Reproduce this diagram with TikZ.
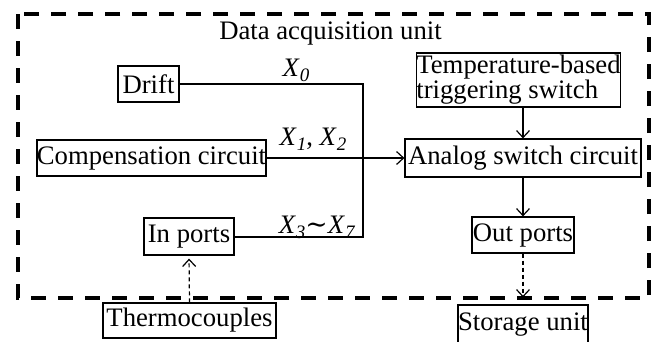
\documentclass[tikz,border=0pt]{standalone}
\usepackage{fontspec}
\usepackage{graphicx}
\setmainfont{Liberation Serif}
\newfontfamily\dvserif{DejaVu Serif}
\usetikzlibrary{arrows.meta}
\newcommand{\Xsub}[1]{\textit{X}\raisebox{-0.22em}{\fontsize{19}{19}\selectfont\textit{#1}}}
\tikzset{
  blk/.style={draw=black, line width=1.2pt, inner sep=0pt, align=center},
  lbl/.style={inner sep=0pt, anchor=base},
  conn/.style={line width=1.2pt},
  arr/.style={line width=1.2pt, -{Straight Barb[length=7pt,width=13pt,line width=1.2pt]}},
  darr/.style={line width=1.2pt, dash pattern=on 4pt off 3pt, -{Straight Barb[length=7pt,width=13pt,line width=1.2pt]}},
}
\begin{document}
\begin{tikzpicture}[x=1pt,y=-1pt, font=\fontsize{26.7}{25}\selectfont]
\useasboundingbox (0,0) rectangle (658,341);
\fill[white] (0,0) rectangle (658,341);
% outer dashed unit
\draw[line width=4pt, dash pattern=on 15pt off 12pt] (18,14) rectangle (649,298);
\node[lbl] (title) at (330.5,39) {Data acquisition unit};
% blocks
\node[blk, minimum width=61pt, minimum height=36pt] (drift) at (148.5,84) {Drift};
\node[blk, minimum width=229pt, minimum height=36pt] (comp) at (151.5,158) {Compensation circuit};
\node[blk, minimum width=90pt, minimum height=37pt] (inp) at (189,236.5) {In ports};
\node[blk, minimum width=173pt, minimum height=35pt] (thermo) at (189.5,320.5) {Thermocouples};
\node[blk, minimum width=203pt, minimum height=54pt, align=left] (temp) at (518.5,80) {Temperature-based\\triggering switch};
\node[blk, minimum width=236pt, minimum height=38pt] (analog) at (523,158) {Analog switch circuit};
\node[blk, minimum width=102pt, minimum height=36pt] (outp) at (523,235) {Out ports};
\node[blk, minimum width=130pt, minimum height=39pt] (store) at (523,324.5) {Storage unit};
% labels
\node[lbl] (x0) at (296,76) {\Xsub{0}};
\node[lbl] (x12) at (313,145) {\Xsub{1}, \Xsub{2}};
\node[lbl] (x37) at (317,233) {\Xsub{3}{\dvserif ∼}\Xsub{7}};
% connectors
\coordinate (vtop) at (363,84);
\coordinate (vbot) at (363,237);
\draw[conn] (drift.east) -- (vtop) -- (vbot) -- (inp.east |- vbot);
\draw[arr] (comp.east) -- (analog.west);
\draw[arr] (analog.north |- temp.south) -- (analog.north);
\draw[arr] (analog.south) -- (outp.north);
\draw[darr, shorten >=3pt] (thermo.north) -- (inp.south);
\draw[darr, shorten >=7pt] (outp.south) -- (store.north);
\end{tikzpicture}
\end{document}
